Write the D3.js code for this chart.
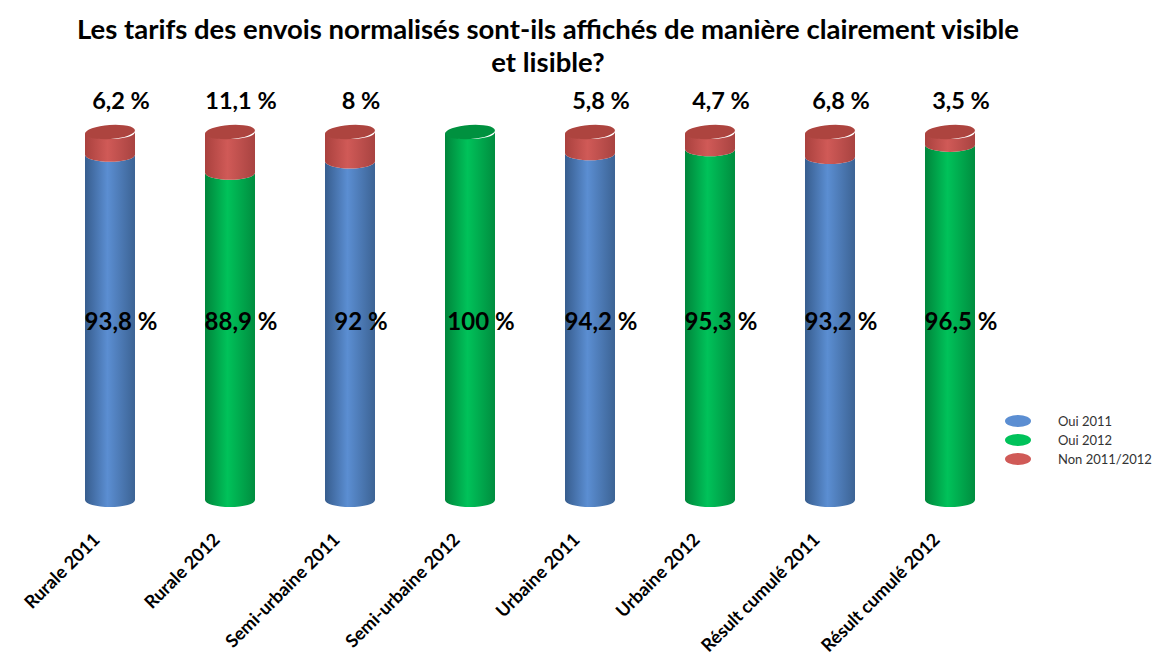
<!DOCTYPE html>
<html><head><meta charset="utf-8">
<script src="https://cdn.jsdelivr.net/npm/d3@7/dist/d3.min.js"></script>
<style>body{margin:0;background:#fff;} svg{display:block;font-family:Lato, "Open Sans", sans-serif;}</style>
</head><body>
<svg id="c" width="1155" height="664"></svg>
<script>
const categories = ["Rurale 2011","Rurale 2012","Semi-urbaine 2011","Semi-urbaine 2012","Urbaine 2011","Urbaine 2012","Résult cumulé 2011","Résult cumulé 2012"];
const oui2011 = [93.8, null, 92, null, 94.2, null, 93.2, null];
const oui2012 = [null, 88.9, null, 100, null, 95.3, null, 96.5];
const non = [6.2, 11.1, 8, 0, 5.8, 4.7, 6.8, 3.5];
const seriesNames = ["Oui 2011","Oui 2012","Non 2011/2012"];
const titleLines = ["Les tarifs des envois normalisés sont-ils affichés de manière clairement visible","et lisible?"];

const svg = d3.select("#c");
const defs = svg.append("defs");
const pal = {
  blue:  {d1:"#375d8e", m:"#5b8ed2", d2:"#3c6394", cap:"#4a76b0"},
  green: {d1:"#00853b", m:"#00c25a", d2:"#008d3f", cap:"#00913f"},
  red:   {d1:"#a9413e", m:"#d05a57", d2:"#a84341", cap:"#ad443f"}
};
Object.entries(pal).forEach(([k,c])=>{
  const g = defs.append("linearGradient").attr("id","g_"+k).attr("x1","0").attr("x2","1").attr("y1","0").attr("y2","0");
  g.append("stop").attr("offset","0").attr("stop-color",c.d1);
  g.append("stop").attr("offset","0.45").attr("stop-color",c.m);
  g.append("stop").attr("offset","1").attr("stop-color",c.d2);
});

const x = d3.scaleBand().domain(categories).range([50,1010]).paddingInner(70/120).paddingOuter(0.29167);
const y = d3.scaleLinear().domain([0,100]).range([500,132]);
const bw = x.bandwidth(), rx = bw/2, ry = 7;
const fmt = v => String(v).replace(".", ",") + " %";

function sidePath(x0, yt, yb){
  const x1 = x0 + bw;
  return `M${x0},${yt} L${x0},${yb} A${rx},${ry} 0 0 0 ${x1},${yb} L${x1},${yt} A${rx},${ry} 0 0 1 ${x0},${yt} Z`;
}

categories.forEach((cat,i)=>{
  const x0 = x(cat);
  const isO11 = oui2011[i] != null;
  const ouiVal = isO11 ? oui2011[i] : oui2012[i];
  const col = isO11 ? "blue" : "green";
  const g = svg.append("g");
  g.append("path").attr("d", sidePath(x0, y(ouiVal), y(0))).attr("fill","url(#g_"+col+")");
  let topCol = col;
  if (non[i] > 0){
    g.append("path").attr("d", sidePath(x0, y(ouiVal+non[i]), y(ouiVal))).attr("fill","url(#g_red)");
    topCol = "red";
  }
  const total = ouiVal + non[i];
  g.append("ellipse").attr("cx", x0+rx).attr("cy", y(total)).attr("rx", rx).attr("ry", ry)
    .attr("transform", `rotate(-4 ${x0+rx} ${y(total)})`)
    .attr("fill", pal[topCol].cap);
  svg.append("text").attr("x", x0+rx+11).attr("y", 330).attr("text-anchor","middle")
    .attr("font-size",24).attr("font-weight","bold").attr("fill","#000").text(fmt(ouiVal));
  if (non[i] > 0){
    svg.append("text").attr("x", x0+rx+11).attr("y", 109).attr("text-anchor","middle")
      .attr("font-size",23.5).attr("font-weight","bold").attr("fill","#000").text(fmt(non[i]));
  }
});

categories.forEach(cat=>{
  const cx = x(cat) + rx - 18, cy = 532;
  svg.append("text").attr("transform",`translate(${cx},${cy}) rotate(-45)`).attr("text-anchor","end")
    .attr("dy","0.7em").attr("font-size",18).attr("font-weight","bold").attr("fill","#000").text(cat);
});

titleLines.forEach((t,j)=>{
  svg.append("text").attr("x",548).attr("y",39 + j*33).attr("text-anchor","middle")
    .attr("font-size",27.5).attr("font-weight","bold").attr("fill","#000").text(t);
});

const legCols = ["blue","green","red"];
seriesNames.forEach((s,j)=>{
  const ly = 421 + j*19;
  svg.append("ellipse").attr("cx",1018).attr("cy",ly).attr("rx",13).attr("ry",6).attr("fill",pal[legCols[j]].m);
  svg.append("text").attr("x",1058).attr("y",ly+4.5).attr("font-size",13).attr("fill","#333").text(s);
});
</script>
</body></html>
